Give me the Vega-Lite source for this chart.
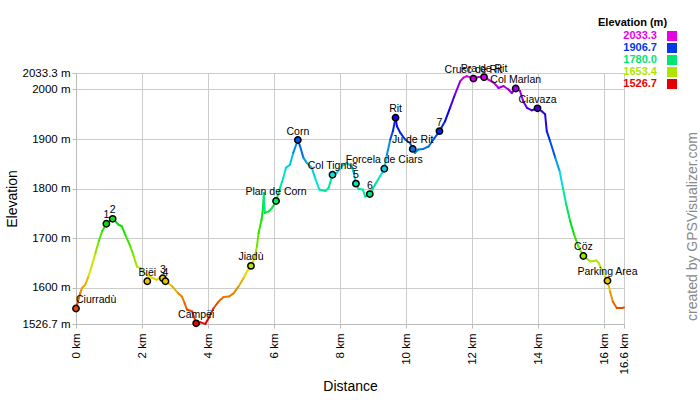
{
  "$schema": "https://vega.github.io/schema/vega-lite/v6.json",
  "autosize": {"type": "none"},
  "padding": {"left": 76, "top": 73, "right": 76, "bottom": 76},
  "width": 548,
  "height": 251,
  "background": "white",
  "config": {
    "font": "Liberation Sans",
    "view": {"stroke": "#bbbbbb", "strokeWidth": 1}
  },
  "resolve": {"axis": {"y": "independent"}},
  "datasets": {
    "profile": [
      {"d":0,"e":1558},{"d":0.06,"e":1572},{"d":0.13,"e":1589},{"d":0.18,"e":1599},{"d":0.28,"e":1606},{"d":0.38,"e":1623},{"d":0.46,"e":1640},{"d":0.59,"e":1670},{"d":0.69,"e":1694},{"d":0.79,"e":1714},{"d":0.92,"e":1729},{"d":1.11,"e":1739},{"d":1.19,"e":1734},{"d":1.29,"e":1727},{"d":1.39,"e":1724},{"d":1.49,"e":1707},{"d":1.65,"e":1683},{"d":1.75,"e":1663},{"d":1.85,"e":1642},{"d":1.95,"e":1640},{"d":2.1,"e":1628},{"d":2.3,"e":1620},{"d":2.45,"e":1616},{"d":2.56,"e":1621},{"d":2.63,"e":1619},{"d":2.73,"e":1613},{"d":2.91,"e":1603},{"d":3.09,"e":1589},{"d":3.21,"e":1582},{"d":3.29,"e":1569},{"d":3.36,"e":1556},{"d":3.52,"e":1552},{"d":3.64,"e":1528},{"d":3.77,"e":1530},{"d":3.92,"e":1527},{"d":4.02,"e":1539},{"d":4.17,"e":1559},{"d":4.32,"e":1572},{"d":4.47,"e":1581},{"d":4.63,"e":1582},{"d":4.78,"e":1589},{"d":4.93,"e":1603},{"d":5.08,"e":1620},{"d":5.18,"e":1633},{"d":5.3,"e":1644},{"d":5.41,"e":1660},{"d":5.48,"e":1683},{"d":5.53,"e":1710},{"d":5.62,"e":1737},{"d":5.66,"e":1758},{"d":5.69,"e":1791},{"d":5.72,"e":1751},{"d":5.84,"e":1754},{"d":5.94,"e":1761},{"d":6.06,"e":1775},{"d":6.18,"e":1801},{"d":6.28,"e":1822},{"d":6.36,"e":1842},{"d":6.48,"e":1848},{"d":6.58,"e":1872},{"d":6.72,"e":1898},{"d":6.79,"e":1885},{"d":6.89,"e":1862},{"d":6.99,"e":1852},{"d":7.14,"e":1842},{"d":7.24,"e":1822},{"d":7.37,"e":1798},{"d":7.55,"e":1795},{"d":7.65,"e":1801},{"d":7.77,"e":1828},{"d":7.9,"e":1832},{"d":8.05,"e":1845},{"d":8.2,"e":1852},{"d":8.35,"e":1845},{"d":8.4,"e":1835},{"d":8.48,"e":1810},{"d":8.56,"e":1799},{"d":8.69,"e":1798},{"d":8.76,"e":1784},{"d":8.9,"e":1789},{"d":9.06,"e":1808},{"d":9.21,"e":1825},{"d":9.34,"e":1840},{"d":9.42,"e":1869},{"d":9.52,"e":1899},{"d":9.6,"e":1916},{"d":9.68,"e":1943},{"d":9.72,"e":1926},{"d":9.82,"e":1913},{"d":9.97,"e":1899},{"d":10.12,"e":1892},{"d":10.2,"e":1880},{"d":10.27,"e":1872},{"d":10.37,"e":1879},{"d":10.52,"e":1880},{"d":10.68,"e":1885},{"d":10.83,"e":1899},{"d":11.01,"e":1916},{"d":11.18,"e":1936},{"d":11.33,"e":1963},{"d":11.48,"e":1990},{"d":11.64,"e":2017},{"d":11.74,"e":2024},{"d":11.84,"e":2027},{"d":12.04,"e":2022},{"d":12.19,"e":2025},{"d":12.36,"e":2025},{"d":12.49,"e":2020},{"d":12.65,"e":2014},{"d":12.8,"e":2003},{"d":12.95,"e":2007},{"d":13.1,"e":2000},{"d":13.2,"e":1993},{"d":13.32,"e":2002},{"d":13.45,"e":1997},{"d":13.55,"e":1976},{"d":13.66,"e":1963},{"d":13.81,"e":1958},{"d":13.98,"e":1962},{"d":14.11,"e":1956},{"d":14.21,"e":1950},{"d":14.26,"e":1916},{"d":14.36,"e":1896},{"d":14.52,"e":1862},{"d":14.65,"e":1835},{"d":14.75,"e":1801},{"d":14.85,"e":1768},{"d":14.97,"e":1734},{"d":15.09,"e":1707},{"d":15.22,"e":1683},{"d":15.37,"e":1664},{"d":15.58,"e":1653},{"d":15.76,"e":1655},{"d":15.83,"e":1650},{"d":15.93,"e":1636},{"d":16.1,"e":1614},{"d":16.18,"e":1592},{"d":16.26,"e":1572},{"d":16.38,"e":1559},{"d":16.53,"e":1559},{"d":16.6,"e":1560}
    ],
    "waypoints": [
      {"name":"Ciurradù","d":0,"e":1558},
      {"name":"1","d":0.92,"e":1729},
      {"name":"2","d":1.11,"e":1739},
      {"name":"Biëi","d":2.16,"e":1613},
      {"name":"3","d":2.63,"e":1619},
      {"name":"4","d":2.71,"e":1613},
      {"name":"Campëi","d":3.64,"e":1528},
      {"name":"Jiadù","d":5.3,"e":1644},
      {"name":"Plan de Corn","d":6.06,"e":1775},
      {"name":"Corn","d":6.72,"e":1898},
      {"name":"Col Tignus","d":7.77,"e":1828},
      {"name":"5","d":8.48,"e":1810},
      {"name":"6","d":8.9,"e":1789},
      {"name":"Forcela de Ciars","d":9.34,"e":1840},
      {"name":"Rit","d":9.68,"e":1943},
      {"name":"Ju de Rit","d":10.2,"e":1880},
      {"name":"7","d":11.01,"e":1916},
      {"name":"Crusc de Rit","d":12.04,"e":2022},
      {"name":"Pra de Rit","d":12.36,"e":2025},
      {"name":"Col Marlan","d":13.32,"e":2002},
      {"name":"Ciavaza","d":13.98,"e":1962},
      {"name":"Cöz","d":15.37,"e":1664},
      {"name":"Parking Area","d":16.1,"e":1614}
    ]
  },
  "layer": [
    {
      "data": {"name": "profile"},
      "transform": [
        {"window": [{"op": "lead", "field": "d", "as": "d2"}, {"op": "lead", "field": "e", "as": "e2"}], "sort": [{"field": "d"}]},
        {"filter": "datum.d2 != null"}
      ],
      "mark": {"type": "rule", "strokeWidth": 2, "strokeCap": "round"},
      "encoding": {
        "x": {
          "field": "d", "type": "quantitative",
          "scale": {"domain": [0, 16.6], "nice": false, "zero": false},
          "axis": {
            "title": "Distance",
            "values": [0, 2, 4, 6, 8, 10, 12, 14, 16, 16.6],
            "labelExpr": "datum.value + ' km'",
            "labelAngle": -90,
            "labelAlign": "right",
            "labelBaseline": "middle",
            "labelFontSize": 11.5,
            "labelColor": "#000000",
            "labelPadding": 5,
            "labelOverlap": false,
            "labelFlush": false,
            "labelBound": false,
            "ticks": true,
            "tickSize": 4,
            "tickColor": "#bbbbbb",
            "domainColor": "#bbbbbb",
            "gridColor": "#cccccc",
            "grid": true,
            "titleFontSize": 14,
            "titleFontWeight": "normal",
            "titleColor": "#000000",
            "titlePadding": 6
          }
        },
        "x2": {"field": "d2"},
        "y": {
          "field": "e", "type": "quantitative",
          "scale": {"domain": [1526.7, 2033.3], "nice": false, "zero": false},
          "axis": {
            "orient": "left",
            "title": "Elevation",
            "values": [1526.7, 1600, 1700, 1800, 1900, 2000, 2033.3],
            "labelExpr": "format(datum.value, '.1~f') + ' m'",
            "labelFontSize": 11.5,
            "labelColor": "#000000",
            "labelPadding": 2,
            "labelOverlap": false,
            "labelFlush": false,
            "labelBound": false,
            "ticks": true,
            "tickSize": 4,
            "tickColor": "#bbbbbb",
            "domainColor": "#bbbbbb",
            "gridColor": "#cccccc",
            "grid": true,
            "titleFontSize": 14,
            "titleFontWeight": "normal",
            "titleColor": "#000000",
            "titlePadding": 3
          }
        },
        "y2": {"field": "e2"},
        "color": {
          "field": "e", "type": "quantitative",
          "scale": {
            "domain": [1526.7, 1653.4, 1780, 1906.7, 2033.3],
            "range": ["#e60000", "#ace600", "#00e673", "#003ae6", "#e600e6"],
            "interpolate": "hsl"
          },
          "legend": {
            "type": "symbol",
            "values": [2033.3, 1906.7, 1780, 1653.4, 1526.7],
            "format": ".1f",
            "title": "Elevation (m)",
            "orient": "none",
            "legendX": 522,
            "legendY": -56,
            "padding": 0,
            "titleFontSize": 11,
            "titleFontWeight": "bold",
            "titleColor": "#000000",
            "titlePadding": 2,
            "labelFontSize": 11,
            "labelFontWeight": "bold",
            "symbolType": "square",
            "symbolSize": 100,
            "symbolStrokeWidth": 0,
            "clipHeight": 12,
            "rowPadding": 0,
            "encode": {
              "entries": {"update": {"width": {"value": 90}}},
              "labels": {"update": {"x": {"value": 59}, "align": {"value": "right"}, "fill": {"scale": "color", "field": "value"}}},
              "symbols": {"update": {"x": {"value": 74}, "shape": {"value": "square"}, "fill": {"scale": "color", "field": "value"}, "fillOpacity": {"value": 1}, "stroke": {"value": "transparent"}, "strokeWidth": {"value": 0}}}
            }
          }
        }
      }
    },
    {
      "data": {"name": "waypoints"},
      "mark": {"type": "point", "shape": "circle", "filled": true, "size": 40, "stroke": "#000000", "strokeWidth": 1.5, "opacity": 1},
      "encoding": {
        "x": {"field": "d", "type": "quantitative"},
        "y": {
          "field": "e", "type": "quantitative",
          "axis": {
            "orient": "right",
            "title": "created by GPSVisualizer.com",
            "labels": false,
            "ticks": false,
            "domain": false,
            "grid": false,
            "titleAngle": 270,
            "titleAlign": "center",
            "titleBaseline": "middle",
            "titleX": 68,
            "titleY": 153,
            "titleFontSize": 14,
            "titleFontWeight": "normal",
            "titleColor": "#888888"
          }
        },
        "color": {"field": "e", "type": "quantitative"}
      }
    },
    {
      "data": {"name": "waypoints"},
      "mark": {"type": "text", "fontSize": 10.5, "color": "#000000", "baseline": "alphabetic", "dy": -5.5, "align": {"expr": "datum.d < 0.1 ? 'left' : 'center'"}},
      "encoding": {
        "x": {"field": "d", "type": "quantitative"},
        "y": {"field": "e", "type": "quantitative", "axis": null},
        "text": {"field": "name"}
      }
    }
  ]
}
